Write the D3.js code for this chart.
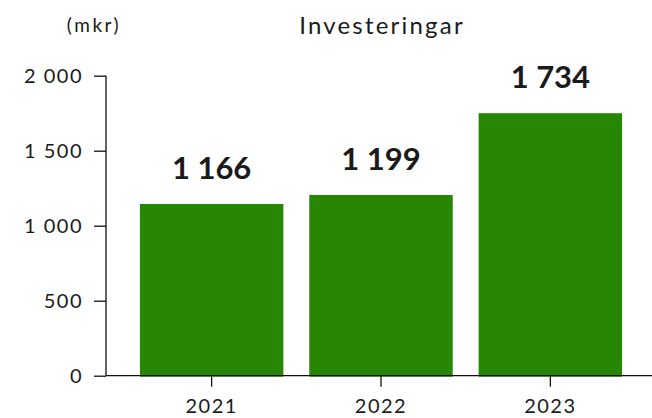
<!DOCTYPE html>
<html>
<head>
<meta charset="utf-8">
<script src="https://cdn.jsdelivr.net/npm/d3@7"></script>
<style>
  body { margin: 0; background: #fff; }
  text { font-family: Lato, sans-serif; fill: #1a1a1a; }
</style>
</head>
<body>
<div id="chart"></div>
<script>
const years = ['2021', '2022', '2023'];
// bar heights as drawn in the picture (mkr)
const investments = [1145, 1205, 1750];
// value labels printed above the bars
const valueLabels = ['1 166', '1 199', '1 734'];
const yTicks = [0, 500, 1000, 1500, 2000];
const yTickLabels = ['0', '500', '1 000', '1 500', '2 000'];

const width = 652;
const height = 418;
const margin = { top: 75.7, right: 0, bottom: 42.3, left: 106 };
const green = '#278603';

const svg = d3.select('#chart')
  .append('svg')
  .attr('width', width)
  .attr('height', height);

const x = d3.scaleBand()
  .domain(years)
  .range([114, 648])
  .padding(0.153);

const y = d3.scaleLinear()
  .domain([0, 2000])
  .range([height - margin.bottom, margin.top]);

// bars
svg.append('g')
  .selectAll('rect')
  .data(investments)
  .join('rect')
  .attr('x', (d, i) => x(years[i]))
  .attr('y', d => y(d))
  .attr('width', x.bandwidth())
  .attr('height', d => y(0) - y(d) + 1)
  .attr('fill', green);

// value labels
svg.append('g')
  .selectAll('text')
  .data(investments)
  .join('text')
  .attr('x', (d, i) => x(years[i]) + x.bandwidth() / 2)
  .attr('y', d => y(d) - 25)
  .attr('text-anchor', 'middle')
  .style('font-size', '31px')
  .style('font-weight', 'bold')
  .text((d, i) => valueLabels[i]);

// y axis
const yAxis = d3.axisLeft(y)
  .tickValues(yTicks)
  .tickSize(12)
  .tickPadding(11)
  .tickFormat((d, i) => yTickLabels[i]);

svg.append('g')
  .attr('transform', `translate(${margin.left},0)`)
  .call(yAxis)
  .call(g => g.select('.domain').attr('d', `M0,${y(2000)}V${y(0)}`))
  .call(g => g.selectAll('line, path').attr('stroke', '#111').attr('stroke-width', 1.3))
  .call(g => g.selectAll('text')
    .style('font-family', 'Lato, sans-serif')
    .style('font-size', '20px')
    .style('letter-spacing', '1.5px')
    .attr('fill', '#1a1a1a'));

// x axis
const xAxis = d3.axisBottom(x)
  .tickSize(11)
  .tickPadding(12);

svg.append('g')
  .attr('transform', `translate(0,${y(0)})`)
  .call(xAxis)
  .call(g => g.select('.domain').attr('d', `M${margin.left},0H${width}`))
  .call(g => g.selectAll('line, path').attr('stroke', '#111').attr('stroke-width', 1.3))
  .call(g => g.selectAll('text')
    .style('font-family', 'Lato, sans-serif')
    .style('font-size', '20px')
    .style('letter-spacing', '1.5px')
    .attr('fill', '#1a1a1a'));

// title and unit
svg.append('text')
  .attr('x', 382)
  .attr('y', 33.5)
  .attr('text-anchor', 'middle')
  .style('font-size', '24px')
  .style('letter-spacing', '2.2px')
  .text('Investeringar');

svg.append('text')
  .attr('x', 94)
  .attr('y', 32)
  .attr('text-anchor', 'middle')
  .style('font-size', '19px')
  .style('letter-spacing', '2.5px')
  .text('(mkr)');
</script>
</body>
</html>
